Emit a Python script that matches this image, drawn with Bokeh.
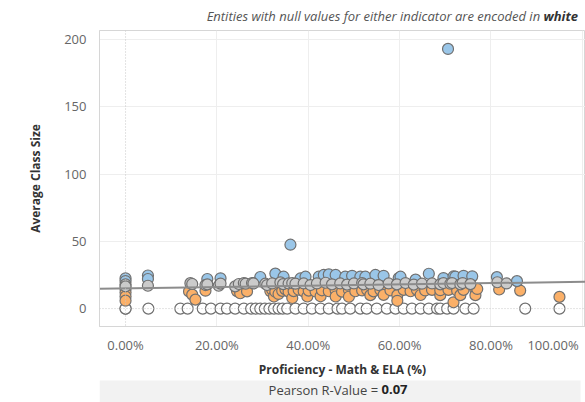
from bokeh.plotting import figure
from bokeh.layouts import column
from bokeh.models import Range1d, NumeralTickFormatter, FixedTicker, Span
from bokeh.core.properties import value
from bokeh.embed import file_html
from bokeh.resources import INLINE

FONT = "Open Sans"

# ---------------- data (proficiency as fraction, average class size) -------------
white_x = [0.0, 0.0, 0.05, 0.12, 0.136, 0.169, 0.187, 0.208, 0.222, 0.24,
           0.259, 0.275, 0.285, 0.295, 0.305, 0.315, 0.325, 0.335, 0.344, 0.354,
           0.372, 0.39, 0.408, 0.427, 0.445, 0.464, 0.474, 0.492, 0.514, 0.528,
           0.55, 0.572, 0.591, 0.609, 0.627, 0.646, 0.664, 0.682, 0.689, 0.704,
           0.718, 0.744, 0.762, 0.875, 0.95]
white_y = [0.0] * len(white_x)

orange_x = [0.0, 0.0, 0.0, 0.0, 0.139, 0.146, 0.153, 0.175, 0.244, 0.251,
            0.266, 0.317, 0.321, 0.325, 0.328, 0.335, 0.343, 0.35, 0.357, 0.365,
            0.368, 0.379, 0.39, 0.398, 0.401, 0.416, 0.427, 0.43, 0.445, 0.46,
            0.46, 0.474, 0.489, 0.489, 0.503, 0.518, 0.529, 0.536, 0.543, 0.558,
            0.565, 0.58, 0.595, 0.595, 0.609, 0.624, 0.638, 0.646, 0.656, 0.671,
            0.689, 0.689, 0.707, 0.718, 0.726, 0.733, 0.74, 0.766, 0.766, 0.77,
            0.818, 0.864, 0.95]
orange_y = [14.5, 12.0, 9.0, 5.9, 12.8, 10.4, 6.7, 13.3, 13.0, 11.4,
            12.8, 13.0, 14.0, 9.0, 12.5, 10.9, 13.2, 14.3, 12.6, 7.9,
            13.0, 14.0, 12.8, 9.0, 13.4, 12.7, 9.2, 13.6, 12.9, 13.5,
            9.0, 12.6, 13.8, 8.8, 12.9, 13.5, 13.9, 10.0, 12.8, 13.9,
            10.2, 13.6, 10.0, 5.8, 13.9, 12.9, 13.9, 10.1, 13.5, 13.9,
            10.0, 13.7, 13.9, 4.7, 13.3, 10.0, 13.9, 13.9, 10.0, 14.6,
            14.2, 13.4, 8.7]

gray_x = [0.0, 0.0, 0.049, 0.142, 0.146, 0.175, 0.179, 0.204, 0.208, 0.24,
          0.248, 0.259, 0.263, 0.277, 0.28, 0.306, 0.31, 0.321, 0.339, 0.345,
          0.357, 0.365, 0.372, 0.39, 0.405, 0.419, 0.438, 0.452, 0.47, 0.485,
          0.5, 0.518, 0.521, 0.536, 0.554, 0.576, 0.594, 0.613, 0.631, 0.649,
          0.671, 0.689, 0.696, 0.711, 0.715, 0.733, 0.738, 0.755, 0.814, 0.834]
gray_y = [18.0, 16.5, 17.0, 18.9, 18.3, 17.5, 18.0, 17.0, 18.6, 16.5,
          18.3, 19.0, 18.5, 19.0, 18.7, 18.5, 17.5, 18.7, 19.5, 18.2,
          18.7, 19.0, 18.5, 18.7, 17.5, 18.7, 19.2, 18.0, 18.7, 17.8,
          18.7, 19.0, 18.0, 18.5, 17.5, 18.7, 18.0, 19.0, 17.8, 18.5,
          18.7, 18.0, 19.0, 18.5, 19.0, 18.0, 19.0, 18.2, 19.6, 18.7]

blue_x = [0.0, 0.0, 0.049, 0.049, 0.179, 0.208, 0.295, 0.328, 0.346, 0.361,
          0.383, 0.394, 0.423, 0.434, 0.445, 0.46, 0.481, 0.496, 0.514, 0.525,
          0.547, 0.565, 0.598, 0.602, 0.635, 0.664, 0.696, 0.706, 0.718, 0.722,
          0.74, 0.759, 0.813, 0.857]
blue_y = [22.5, 20.5, 24.6, 22.0, 22.0, 22.5, 23.5, 26.0, 23.7, 47.5,
          22.4, 23.7, 23.7, 25.0, 25.4, 25.0, 23.7, 24.4, 23.7, 23.7,
          25.0, 24.4, 22.7, 23.7, 21.5, 25.9, 22.7, 193.0, 23.9, 23.7,
          24.4, 24.0, 23.4, 20.4]

trend_x = [-0.06, 1.01]
trend_y = [14.8, 19.95]

x_ticks = [0.0, 0.2, 0.4, 0.6, 0.8, 1.0]
y_ticks = [0, 50, 100, 150, 200]
subtitle_main = "Entities with null values for either indicator are encoded in "
subtitle_bold = "white"
pearson_label = "Pearson R-Value = "
pearson_r = "0.07"

W = 585
LEFT = 99  # pane left edge (shared by all three stacked figures)

# ---------------- top strip: subtitle -----------------
top = figure(width=W, height=24, output_backend="svg", toolbar_location=None,
             x_range=Range1d(LEFT, W), y_range=Range1d(0, 24),
             min_border_left=LEFT, min_border_right=0, min_border_top=0,
             min_border_bottom=0, x_axis_type=None, y_axis_type=None)
top.outline_line_color = None
top.grid.visible = False
top.text(x=[543], y=[9], text=[subtitle_main], text_align="right",
         text_baseline="middle", text_font=value(FONT), text_font_size="13px",
         text_font_style="italic", text_color="#555555")
top.text(x=[543], y=[9], text=[subtitle_bold], text_align="left",
         text_baseline="middle", text_font=value(FONT), text_font_size="13px",
         text_font_style="bold italic", text_color="#333333")

# ---------------- main scatter -----------------
p = figure(width=W, height=356, output_backend="svg", toolbar_location=None,
           x_range=Range1d(-0.057, 1.007), y_range=Range1d(-13.3, 206.7),
           min_border_left=LEFT, min_border_right=0, min_border_top=6,
           min_border_bottom=53)
p.outline_line_color = "#d6d6d6"
p.background_fill_color = "white"
p.border_fill_color = "white"

p.xaxis.ticker = FixedTicker(ticks=x_ticks)
p.yaxis.ticker = FixedTicker(ticks=y_ticks)
p.xaxis.formatter = NumeralTickFormatter(format="0.00%")
# last label shifted inward (as in the original view) with trailing no-break spaces
p.xaxis.major_label_overrides = {1.0: "100.00%" + "\u00a0" * 2}

for ax in (p.xaxis[0], p.yaxis[0]):
    ax.major_tick_line_color = None
    ax.minor_tick_line_color = None
    ax.major_label_text_font = FONT
    ax.major_label_text_font_size = "13px"
    ax.major_label_text_color = "#666666"
    ax.axis_label_text_font = FONT
    ax.axis_label_text_font_size = "12px"
    ax.axis_label_text_font_style = "bold"
    ax.axis_label_text_color = "#333333"

p.xaxis.axis_label = "Proficiency - Math & ELA (%)"
p.yaxis.axis_label = "Average Class Size"
p.xaxis.axis_line_color = "#d6d6d6"
p.yaxis.axis_line_color = "#d6d6d6"
p.xaxis.major_label_standoff = 3
p.xaxis.axis_label_standoff = 4
p.yaxis.major_label_standoff = 7
p.yaxis.axis_label_standoff = 17

p.xgrid.ticker = FixedTicker(ticks=[0.2, 0.4, 0.6, 0.8, 1.0])
p.ygrid.ticker = FixedTicker(ticks=[50, 100, 150, 200])
p.xgrid.grid_line_color = "#eeeeee"
p.ygrid.grid_line_color = "#eeeeee"

p.add_layout(Span(location=0, dimension="height", line_color="#c8c8c8",
                  line_dash="1 2", line_width=1))
p.add_layout(Span(location=0, dimension="width", line_color="#c8c8c8",
                  line_dash="1 2", line_width=1))

outline = "#707070"
size = 11
p.scatter(white_x, white_y, size=size, fill_color="white", line_color=outline, line_width=1.2)
p.scatter(orange_x, orange_y, size=size, fill_color="#fbb068", line_color=outline, line_width=1.2)
p.scatter(blue_x, blue_y, size=size, fill_color="#9ac6e8", line_color=outline, line_width=1.2)
p.scatter(gray_x, gray_y, size=size, fill_color="#cbcbcb", line_color=outline, line_width=1.2)
p.line(trend_x, trend_y, line_color="#8c8c8c", line_width=2)

# ---------------- bottom strip: Pearson R -----------------
bot = figure(width=W, height=22, output_backend="svg", toolbar_location=None,
             x_range=Range1d(LEFT, W), y_range=Range1d(0, 22),
             min_border_left=LEFT, min_border_right=0, min_border_top=0,
             min_border_bottom=0, x_axis_type=None, y_axis_type=None)
bot.outline_line_color = None
bot.grid.visible = False
bot.quad(left=[LEFT], right=[580], bottom=[0], top=[24], fill_color="#f2f2f2",
         line_color=None)
bot.text(x=[381], y=[13], text=[pearson_label], text_align="right",
         text_baseline="middle", text_font=value(FONT), text_font_size="13px",
         text_color="#444444")
bot.text(x=[381], y=[13], text=[pearson_r], text_align="left",
         text_baseline="middle", text_font=value(FONT), text_font_size="13px",
         text_font_style="bold", text_color="#222222")

layout = column(top, p, bot, spacing=0)
open("out.html", "w").write(file_html(layout, INLINE))
